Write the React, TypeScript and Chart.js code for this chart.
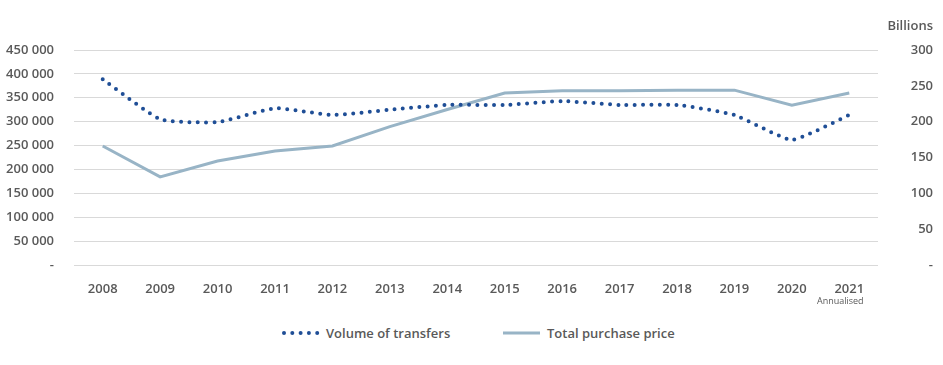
import React, { useEffect, useRef } from "react";
import { Chart, registerables } from "chart.js";

Chart.register(...registerables);

const years = ["2008", "2009", "2010", "2011", "2012", "2013", "2014", "2015", "2016", "2017", "2018", "2019", "2020", "2021"];
const volumeOfTransfers = [389000, 305000, 299000, 328000, 314000, 325000, 335000, 335000, 343000, 335000, 335000, 314000, 262000, 314000];
const totalPurchasePrice = [166, 123, 145, 159, 166, 193, 217, 240, 243, 243, 244, 244, 223, 240];
const leftTicks = [0, 50000, 100000, 150000, 200000, 250000, 300000, 350000, 400000, 450000];
const rightTicks = [0, 50, 100, 150, 200, 250, 300];

const TEXT = "#595959";
const DARK = "#1f4e96";
const LIGHT = "#98b4c6";
const FONT = "'Open Sans', sans-serif";

const fmtThousands = (v: number) =>
  v === 0 ? "-" : String(v).replace(/\B(?=(\d{3})+(?!\d))/g, " ");

const extrasPlugin = {
  id: "extras",
  afterDraw(chart: any) {
    const ctx = chart.ctx;
    ctx.save();
    ctx.fillStyle = TEXT;
    ctx.font = `600 13px ${FONT}`;
    ctx.textAlign = "right";
    ctx.textBaseline = "middle";
    ctx.fillText("Billions", 933, 26);
    const x = chart.scales.x.getPixelForValue(years.length - 1);
    ctx.font = `400 9px ${FONT}`;
    ctx.textAlign = "center";
    ctx.fillText("Annualised", x - 9, 301);
    ctx.restore();
  },
};

export default function App() {
  const ref = useRef<HTMLCanvasElement | null>(null);

  useEffect(() => {
    if (!ref.current) return;
    const chart = new Chart(ref.current, {
      type: "line",
      data: {
        labels: years,
        datasets: [
          {
            label: "Volume of transfers",
            data: volumeOfTransfers,
            yAxisID: "y",
            borderColor: DARK,
            borderWidth: 4,
            borderDash: [0, 8.3],
            borderCapStyle: "round",
            tension: 0.15,
            pointRadius: 0,
            fill: false,
          },
          {
            label: "Total purchase price",
            data: totalPurchasePrice,
            yAxisID: "y1",
            borderColor: LIGHT,
            borderWidth: 3,
            tension: 0,
            pointRadius: 0,
            fill: false,
          },
        ],
      },
      options: {
        animation: false,
        responsive: false,
        maintainAspectRatio: false,
        layout: { padding: { top: 50, right: 10, left: 0, bottom: 0 } },
        plugins: { legend: { display: false }, tooltip: { enabled: false } },
        scales: {
          x: {
            offset: true,
            grid: { display: false, drawTicks: false },
            border: { display: false },
            ticks: { color: TEXT, font: { family: FONT, size: 13, weight: "600" }, padding: 16, maxRotation: 0 },
            afterFit: (s: any) => { s.height = 45; },
          },
          y: {
            position: "left",
            min: 0,
            max: 450000,
            afterBuildTicks: (s: any) => { s.ticks = leftTicks.map((v) => ({ value: v })); },
            grid: { color: "#d9d9d9", lineWidth: 1, drawTicks: false },
            border: { display: false },
            ticks: {
              color: TEXT,
              font: { family: FONT, size: 13, weight: "600" },
              padding: 20,
              callback: (v: any) => fmtThousands(Number(v)),
            },
            afterFit: (s: any) => { s.width = 74; },
          },
          y1: {
            position: "right",
            min: 0,
            max: 300,
            afterBuildTicks: (s: any) => { s.ticks = rightTicks.map((v) => ({ value: v })); },
            grid: { display: false, drawTicks: false },
            border: { display: false },
            ticks: {
              color: TEXT,
              font: { family: FONT, size: 13, weight: "600" },
              crossAlign: "far",
              padding: 0,
              callback: (v: any) => (Number(v) === 0 ? "-" : String(v)),
            },
            afterFit: (s: any) => { s.width = 55; },
          },
        },
      },
      plugins: [extrasPlugin],
    } as any);
    return () => chart.destroy();
  }, []);

  const legendText: React.CSSProperties = {
    fontFamily: FONT,
    fontWeight: 600,
    fontSize: 13,
    color: TEXT,
  };

  return (
    <div style={{ position: "fixed", left: 0, top: 0, width: 943, height: 365, background: "#fff" }}>
      <canvas ref={ref} width={943} height={310} style={{ display: "block", width: 943, height: 310 }} />
      <div style={{ position: "absolute", top: 323, left: 0, width: 943, height: 20, display: "flex", alignItems: "center" }}>
        <div style={{ position: "absolute", left: 281, top: 0, height: 20, display: "flex", alignItems: "center" }}>
          <svg width={40} height={6} style={{ marginRight: 5 }}>
            {[0, 1, 2, 3, 4].map((i) => (
              <circle key={i} cx={3 + i * 8.3} cy={3} r={2} fill={DARK} />
            ))}
          </svg>
          <span style={legendText}>Volume of transfers</span>
        </div>
        <div style={{ position: "absolute", left: 503, top: 0, height: 20, display: "flex", alignItems: "center" }}>
          <svg width={37} height={4} style={{ marginRight: 7 }}>
            <rect x={0} y={0.5} width={37} height={3} fill={LIGHT} />
          </svg>
          <span style={legendText}>Total purchase price</span>
        </div>
      </div>
    </div>
  );
}
